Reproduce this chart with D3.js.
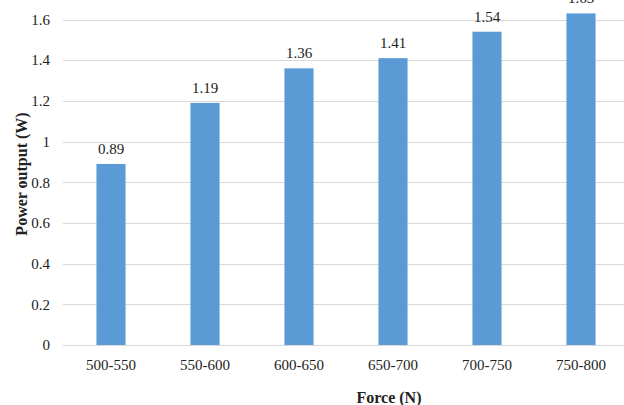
<!DOCTYPE html>
<html>
<head>
<meta charset="UTF-8">
<script src="https://cdn.jsdelivr.net/npm/d3@7"></script>
<style>
    body { margin: 0; background: #fff; }
    svg text { font-family: "Liberation Serif", "Times New Roman", serif; fill: #222; }
    .grid line { stroke: #d9d9d9; shape-rendering: crispEdges; }
</style>
</head>
<body>
<div id="root"></div>
<script>
    let width = 624, height = 405

    // data
    let categories = ["500-550", "550-600", "600-650", "650-700", "700-750", "750-800"]
    let power = [0.89, 1.19, 1.36, 1.41, 1.54, 1.63]
    let yTicks = [0, 0.2, 0.4, 0.6, 0.8, 1, 1.2, 1.4, 1.6]

    let svg = d3.select("#root").append("svg").attr("width", width).attr("height", height)
        .attr("font-family", "'Liberation Serif', 'Times New Roman', serif")

    let x = d3.scaleBand().domain(categories).range([64, 628]).paddingInner(0.69).paddingOuter(0.345)
    let y = d3.scaleLinear().domain([0, 1.6]).range([345, 19.5])

    // gridlines
    svg.append("g").attr("class", "grid")
        .selectAll("line").data(yTicks).enter().append("line")
        .attr("x1", 63).attr("x2", width)
        .attr("y1", d => Math.round(y(d)) + 0.5).attr("y2", d => Math.round(y(d)) + 0.5)

    // y tick labels
    svg.append("g").selectAll("text").data(yTicks).enter().append("text")
        .attr("x", 50).attr("y", d => y(d)).attr("dy", "0.35em")
        .attr("text-anchor", "end").style("font-size", "15px")
        .text(d => d)

    // bars
    svg.append("g").selectAll("rect").data(power).enter().append("rect")
        .attr("x", (d, i) => x(categories[i]))
        .attr("width", x.bandwidth())
        .attr("y", d => y(d))
        .attr("height", d => y(0) - y(d))
        .attr("fill", "#5b9bd5")

    // value labels
    svg.append("g").selectAll("text").data(power).enter().append("text")
        .attr("x", (d, i) => x(categories[i]) + x.bandwidth() / 2)
        .attr("y", d => y(d) - 10)
        .attr("text-anchor", "middle").style("font-size", "15px")
        .text(d => d.toFixed(2))

    // x labels
    svg.append("g").selectAll("text").data(categories).enter().append("text")
        .attr("x", d => x(d) + x.bandwidth() / 2)
        .attr("y", 370)
        .attr("text-anchor", "middle").style("font-size", "15px")
        .text(d => d)

    // axis titles
    svg.append("text").attr("x", 389).attr("y", 403)
        .attr("text-anchor", "middle").style("font-size", "16px").style("font-weight", "bold")
        .text("Force (N)")

    svg.append("text").attr("transform", "translate(27,174) rotate(-90)")
        .attr("text-anchor", "middle").style("font-size", "16px").style("font-weight", "bold")
        .text("Power output (W)")
</script>
</body>
</html>
